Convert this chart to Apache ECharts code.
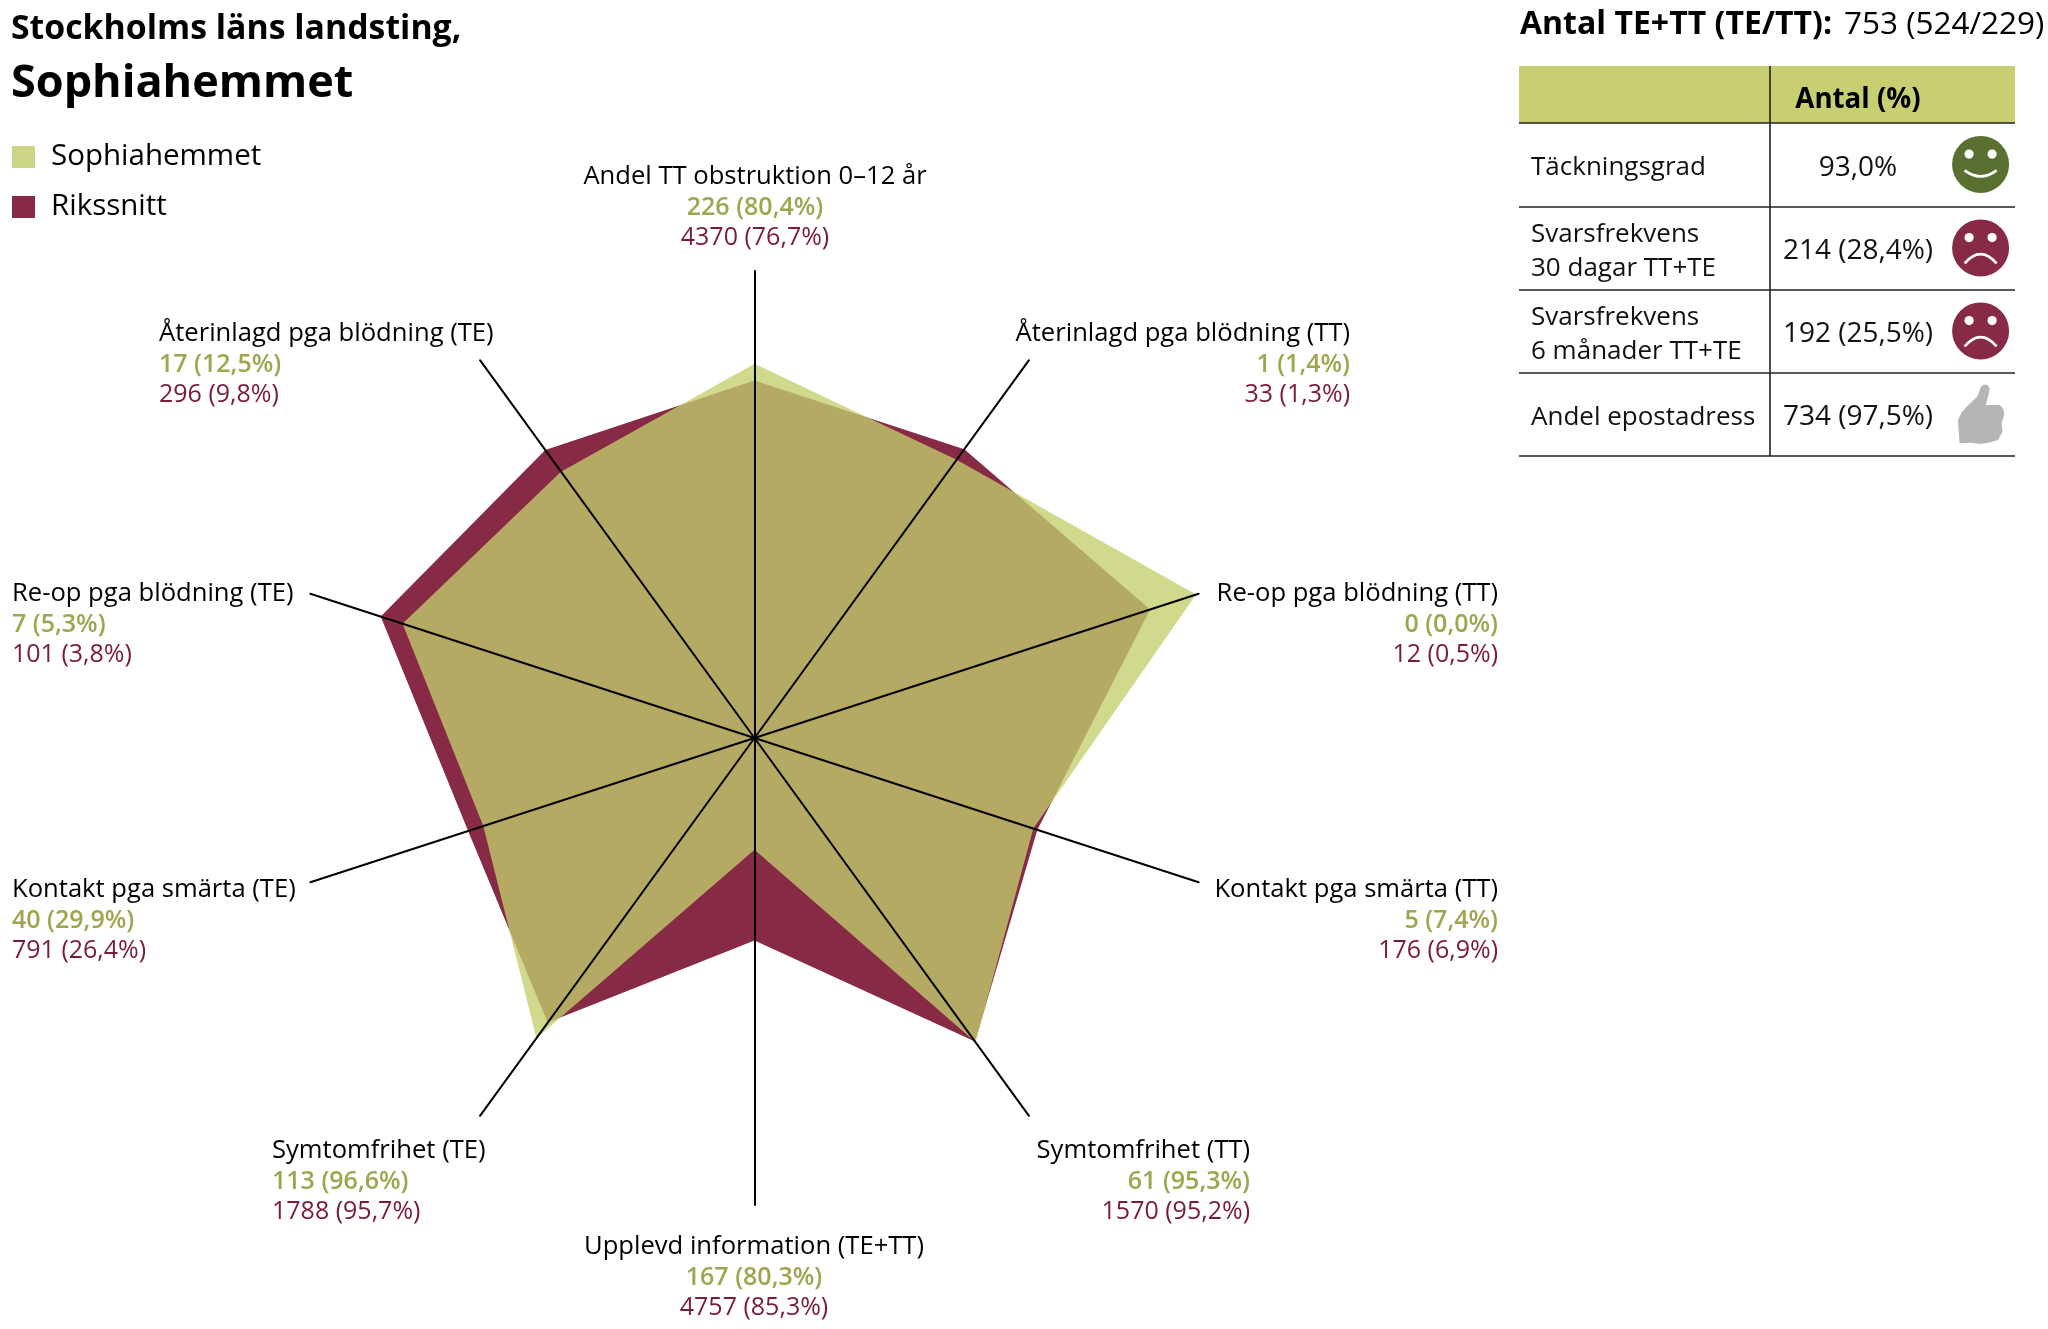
<!DOCTYPE html>
<html>
<head>
<meta charset="utf-8">
<style>html,body{margin:0;padding:0;background:#fff}#c{width:2048px;height:1329px}</style>
<script src="https://cdn.jsdelivr.net/npm/echarts@6/dist/echarts.min.js"></script>
</head>
<body>
<div id="c"></div>
<script>
const categories = ['Andel TT obstruktion 0–12 år','Återinlagd pga blödning (TT)','Re-op pga blödning (TT)','Kontakt pga smärta (TT)','Symtomfrihet (TT)','Upplevd information (TE+TT)','Symtomfrihet (TE)','Kontakt pga smärta (TE)','Re-op pga blödning (TE)','Återinlagd pga blödning (TE)'];
const sophiaLabels = ['226 (80,4%)','1 (1,4%)','0 (0,0%)','5 (7,4%)','61 (95,3%)','167 (80,3%)','113 (96,6%)','40 (29,9%)','7 (5,3%)','17 (12,5%)'];
const riksLabels = ['4370 (76,7%)','33 (1,3%)','12 (0,5%)','176 (6,9%)','1570 (95,2%)','4757 (85,3%)','1788 (95,7%)','791 (26,4%)','101 (3,8%)','296 (9,8%)'];
// plotted radial position of each polygon vertex (0-100)
const sophiaValues = [79.8,73.3,99.0,62.5,80.2,23.8,79.1,60.8,78.9,70.2];
const riksValues = [76.2,76.1,88.7,63.4,80.0,43.2,75.0,64.2,83.8,75.9];
const tableRows = [['Täckningsgrad'],['Svarsfrekvens','30 dagar TT+TE'],['Svarsfrekvens','6 månader TT+TE'],['Andel epostadress']];
const tableValues = ['93,0%','214 (28,4%)','192 (25,5%)','734 (97,5%)'];
const tableIcons = ['happy','sad','sad','thumb'];

const FONT = "'Open Sans'";
const BLACK='#000', OLIVE='#9fa64e', WINE='#7a1a3c';
const nameSize = 25.6, valueSize = 25;
// anchor [x, y of first line centre, align] for every spoke label, clockwise from the top
const placement = [[755,177,'center'],[1350,334,'right'],[1498,594,'right'],[1498,890,'right'],[1250,1151,'right'],[754,1247,'center'],[272,1151,'left'],[12,890,'left'],[12,594,'left'],[159,334,'left']];

function txt(text,x,y,size,fill,weight,align,extra){
  return Object.assign({type:'text',silent:true,style:{text,x,y,font:`${weight||400} ${size}px ${FONT}`,fill,align:align||'left',verticalAlign:'middle'}},extra||{});
}
const g = [];
g.push(txt('Stockholms läns landsting,',11,29,33.8,BLACK,700));
g.push(txt('Sophiahemmet',11,84,45,BLACK,700));
categories.forEach((c,i)=>{
  const [x,y,a]=placement[i];
  g.push(txt(c,x,y,nameSize,BLACK,400,a));
  g.push(txt(sophiaLabels[i],x,y+31,valueSize,OLIVE,600,a));
  g.push(txt(riksLabels[i],x,y+61,valueSize,WINE,400,a));
});
// table
const TL=1519,TR=2015,TM=1770,rowY=[123,207,290,373,456];
g.push({type:'rect',silent:true,shape:{x:TL,y:66,width:TR-TL,height:57},style:{fill:'#c8cf72'}});
rowY.forEach(y=>g.push({type:'line',silent:true,shape:{x1:TL,y1:y,x2:TR,y2:y},style:{stroke:'#222',lineWidth:1.6}}));
g.push({type:'line',silent:true,shape:{x1:TM,y1:66,x2:TM,y2:456},style:{stroke:'#222',lineWidth:1.6}});
g.push(txt('Antal TE+TT (TE/TT):',1520,25,32,BLACK,700));
g.push(txt('753 (524/229)',1844,25,31.5,BLACK,400));
g.push(txt('Antal (%)',1858,100,27.7,BLACK,700,'center'));
tableRows.forEach((r,i)=>{
  const cy=(rowY[i]+rowY[i+1])/2+1;
  if(r.length===1) g.push(txt(r[0],1531,cy+2,26,'#111',400));
  else { g.push(txt(r[0],1531,cy-15,26,'#111',400)); g.push(txt(r[1],1531,cy+19,26,'#111',400)); }
  g.push(txt(tableValues[i],1858,cy+2,28,'#111',400,'center'));
  const ic=tableIcons[i], ix=1980.6, iy=cy-1.6;
  if(ic==='thumb'){
    g.push({type:'polygon',silent:true,shape:{points:[[1959.6,443.3],[1957.9,420],[1962,412],[1968.4,405],[1977.1,396.7],[1979.5,391],[1980.6,386.7],[1984,384.5],[1987.6,385],[1989.3,388],[1989.3,391.7],[1985.8,405],[1999,405],[2002,407],[2004,411],[2004,415],[2001.6,423.3],[2002.6,431.7],[1998,440],[1990,442.5],[1980.6,444],[1971.9,442.7]]},style:{fill:'#b5b5b5'}});
  } else {
    const col=ic==='happy'?'#5a7031':'#862a45';
    g.push({type:'circle',silent:true,shape:{cx:ix,cy:iy,r:28.5},style:{fill:col}});
    g.push({type:'circle',silent:true,shape:{cx:ix-11.5,cy:iy-10.3,r:4.6},style:{fill:'#fff'}});
    g.push({type:'circle',silent:true,shape:{cx:ix+11.5,cy:iy-10.3,r:4.6},style:{fill:'#fff'}});
    g.push(ic==='happy'
      ?{type:'bezierCurve',silent:true,shape:{x1:ix-16,y1:iy+6,x2:ix+16,y2:iy+6,cpx1:ix,cpy1:iy+18},style:{stroke:'#fff',lineWidth:2.6,fill:null}}
      :{type:'bezierCurve',silent:true,shape:{x1:ix-16,y1:iy+15.5,x2:ix+16,y2:iy+15.5,cpx1:ix,cpy1:iy-3},style:{stroke:'#fff',lineWidth:2.6,fill:null}});
  }
});

// ECharts lays radar axes out anticlockwise; the reference runs clockwise from the top
const ccw = a => a.map((_,i)=>a[(a.length-i)%a.length]);

const chart = echarts.init(document.getElementById('c'),null,{renderer:'canvas'});
chart.setOption({
  backgroundColor:'#fff',
  animation:false,
  legend:{orient:'vertical',left:12,top:142,padding:0,itemWidth:23,itemHeight:22,itemGap:20,selectedMode:false,
    textStyle:{fontFamily:FONT,fontSize:29.5,color:'#000',padding:[0,0,0,11]},
    data:[{name:'Sophiahemmet',icon:'rect',itemStyle:{color:'#cdd685'}},{name:'Rikssnitt',icon:'rect',itemStyle:{color:'#862a45'}}]},
  radar:{z:5,center:[754.5,738],radius:467,startAngle:90,shape:'polygon',
    indicator:ccw(categories).map(name=>({name,min:0,max:99.57})),
    axisName:{show:false},splitLine:{show:false},splitArea:{show:false},axisTick:{show:false},axisLabel:{show:false},
    axisLine:{show:true,lineStyle:{color:'#000',width:2}}},
  series:[{type:'radar',z:2,symbol:'none',silent:true,
    data:[
      {name:'Rikssnitt',value:ccw(riksValues),lineStyle:{width:0},itemStyle:{color:'#862a45'},areaStyle:{color:'#862a45',opacity:1}},
      {name:'Sophiahemmet',value:ccw(sophiaValues),lineStyle:{width:0},itemStyle:{color:'#cdd685'},areaStyle:{color:'rgb(195,206,108)',opacity:0.78}}
    ]}],
  graphic:g
});
</script>
</body>
</html>
